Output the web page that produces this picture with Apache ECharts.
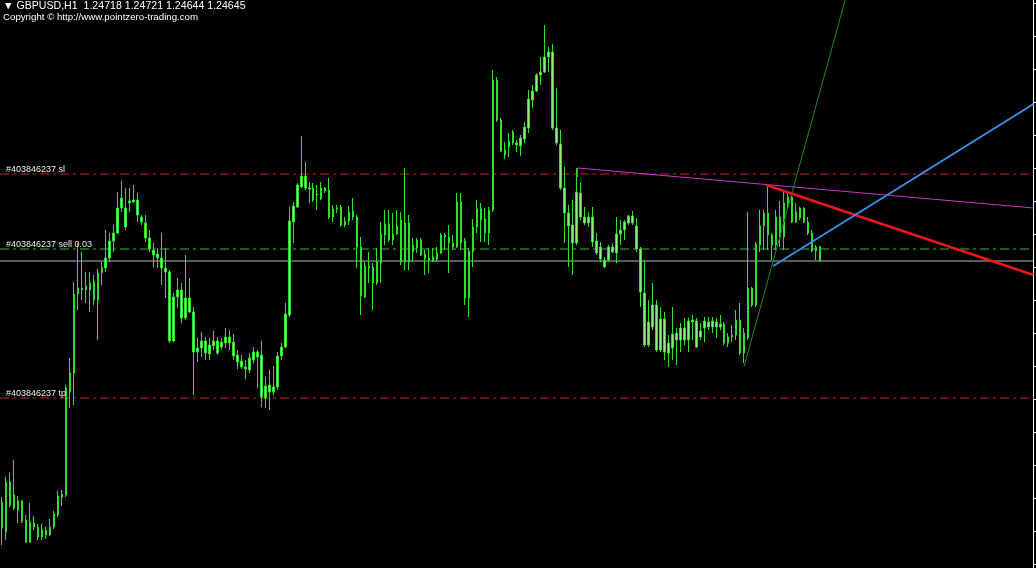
<!DOCTYPE html>
<html><head><meta charset="utf-8">
<script src="https://cdn.jsdelivr.net/npm/echarts@6/dist/echarts.min.js"></script>
<style>html,body{margin:0;padding:0;background:#000;overflow:hidden}#c{width:1036px;height:568px}</style>
</head><body><div id="c"></div>
<script>
const symbolName = 'GBPUSD';
const timeframe = 'H1';
const copyrightText = 'Copyright \u00A9 http://www.pointzero-trading.com';
const orderId = '#403846237';
const orderLots = '0.03';

const opens = [1.2344,1.2329,1.2354,1.2341,1.23445,1.23445,1.2335,1.2324,1.23335,1.23315,
1.23265,1.233,1.23275,1.23315,1.23375,1.23465,1.23475,1.2399,1.24085,1.2448,
1.2451,1.245,1.245,1.2454,1.2445,1.24585,1.2461,1.2466,1.24745,1.24785,
1.2491,1.2491,1.24935,1.2494,1.2495,1.24865,1.24835,1.2476,1.247,1.2468,
1.2466,1.2461,1.2459,1.24245,1.24465,1.245,1.2436,1.2446,1.2439,1.2419,
1.2421,1.24245,1.24225,1.2422,1.24245,1.24215,1.24235,1.24265,1.2424,1.24175,
1.24145,1.24115,1.241,1.2415,1.2419,1.24175,1.2396,1.24025,1.2399,1.24015,
1.2417,1.24215,1.24375,1.2484,1.24915,1.25015,1.2507,1.2501,1.2501,1.24975,
1.24955,1.2501,1.25,1.24865,1.2491,1.24915,1.24825,1.24845,1.24895,1.24865,
1.24715,1.24465,1.2462,1.24615,1.24535,1.24635,1.24775,1.2483,1.2475,1.2478,
1.2485,1.2464,1.24835,1.2469,1.2471,1.2475,1.2468,1.2466,1.24645,1.24655,
1.24685,1.24775,1.24765,1.24735,1.24715,1.2494,1.24745,1.2446,1.2469,1.24815,
1.24905,1.24855,1.24785,1.249,1.2555,1.2535,1.252,1.25215,1.25235,1.25235,
1.2522,1.25255,1.2531,1.2545,1.25495,1.25575,1.2559,1.25665,1.2569,1.2531,
1.2523,1.2501,1.24885,1.24825,1.24735,1.24985,1.24865,1.24835,1.24865,1.24745,
1.24715,1.2465,1.2465,1.24715,1.24685,1.2478,1.248,1.24835,1.2487,1.2482,
1.24705,1.24485,1.24225,1.24315,1.24425,1.242,1.24355,1.24235,1.2421,1.2425,
1.2425,1.2431,1.2425,1.2434,1.24345,1.24265,1.2431,1.2434,1.24315,1.2434,
1.24315,1.2433,1.24235,1.24265,1.24275,1.2435,1.24185,1.2426,1.2451,1.24425,
1.24725,1.2482,1.24885,1.24775,1.24725,1.24865,1.24765,1.24935,1.24965,1.2484,
1.2486,1.2491,1.2484,1.24785,1.24695,1.24718];

const closes = [1.2331,1.2354,1.23425,1.23475,1.234,1.23345,1.2324,1.2334,1.23315,1.23265,
1.233,1.23275,1.23315,1.2338,1.2347,1.2348,1.2401,1.24085,1.2448,1.2451,
1.245,1.2452,1.24535,1.2445,1.24585,1.2461,1.2466,1.24745,1.24785,1.2491,
1.2496,1.24815,1.24945,1.2495,1.24875,1.2484,1.2476,1.24705,1.24675,1.2466,
1.2461,1.2459,1.24245,1.24465,1.245,1.2436,1.2446,1.2439,1.2419,1.2421,
1.24245,1.24185,1.2418,1.24245,1.24185,1.2424,1.24265,1.24235,1.2417,1.2414,
1.24115,1.24105,1.2416,1.2419,1.24165,1.23965,1.2402,1.2399,1.24015,1.2417,
1.24215,1.2438,1.24845,1.2492,1.25025,1.2507,1.2501,1.25005,1.2495,1.2498,
1.2501,1.24995,1.24865,1.24905,1.24905,1.24825,1.24845,1.2489,1.24865,1.24715,
1.2447,1.2462,1.2461,1.24535,1.2464,1.2478,1.2483,1.2475,1.2478,1.2482,
1.2464,1.24835,1.2464,1.24725,1.2475,1.24675,1.24655,1.2465,1.24665,1.24685,
1.24775,1.24765,1.24735,1.24715,1.2494,1.24735,1.2446,1.24695,1.24815,1.24905,
1.2485,1.24785,1.249,1.2555,1.2535,1.25195,1.25175,1.25245,1.2529,1.25225,
1.2526,1.25315,1.25455,1.25495,1.25575,1.2559,1.25665,1.2569,1.2531,1.25235,
1.2501,1.24885,1.2482,1.24735,1.2499,1.24865,1.24835,1.24865,1.2474,1.24685,
1.24655,1.24615,1.24715,1.2469,1.2478,1.248,1.2484,1.2487,1.24835,1.24705,
1.2449,1.24225,1.2434,1.24425,1.242,1.24355,1.2419,1.24185,1.2428,1.24285,
1.2431,1.2425,1.24345,1.2435,1.24215,1.24295,1.24345,1.24315,1.24345,1.24315,
1.2433,1.24235,1.24265,1.24275,1.2435,1.24185,1.24285,1.2451,1.24425,1.2473,
1.2482,1.24885,1.24775,1.24725,1.24865,1.24765,1.24935,1.24965,1.2484,1.2489,
1.2491,1.2484,1.24785,1.24695,1.24715,1.24645];

const lows = [1.23225,1.2325,1.23415,1.234,1.23335,1.23335,1.23235,1.23235,1.233,1.2325,
1.2325,1.23255,1.2327,1.23305,1.23365,1.2342,1.23465,1.2391,1.23925,1.244,
1.2445,1.24435,1.2439,1.24425,1.2425,1.24525,1.2459,1.2464,1.2469,1.2478,
1.2489,1.248,1.2489,1.24935,1.2484,1.24825,1.2474,1.2469,1.24615,1.2461,
1.24525,1.2446,1.24235,1.2424,1.2441,1.24335,1.2435,1.24385,1.23975,1.2414,
1.24165,1.2415,1.2415,1.242,1.24175,1.242,1.2421,1.242,1.2415,1.24105,
1.24105,1.24055,1.24085,1.24135,1.2401,1.23915,1.2391,1.239,1.23975,1.24,
1.2415,1.2421,1.24365,1.24735,1.2491,1.2501,1.25,1.24935,1.2494,1.249,
1.2495,1.24985,1.24855,1.2484,1.24885,1.24815,1.24815,1.24825,1.2485,1.2461,
1.24375,1.2446,1.24535,1.244,1.24525,1.24535,1.24725,1.2474,1.24725,1.24775,
1.24625,1.246,1.246,1.2464,1.24685,1.2467,1.24575,1.24585,1.2464,1.2464,
1.2468,1.247,1.24585,1.247,1.2471,1.247,1.24425,1.24365,1.24615,1.24785,
1.2474,1.2474,1.24725,1.2489,1.2534,1.2519,1.25155,1.25165,1.25225,1.2519,
1.2517,1.25235,1.25285,1.2541,1.2549,1.25525,1.25585,1.2559,1.253,1.25225,
1.25,1.24735,1.24615,1.24575,1.24725,1.2485,1.24825,1.24815,1.24715,1.24675,
1.2464,1.2461,1.2464,1.24685,1.24635,1.24725,1.2475,1.24825,1.24825,1.2469,
1.24415,1.24215,1.24215,1.243,1.2419,1.2419,1.2415,1.24115,1.2415,1.24125,
1.2419,1.24225,1.2419,1.2425,1.2421,1.2425,1.2424,1.243,1.24285,1.2426,
1.243,1.24225,1.24215,1.2424,1.2425,1.24175,1.24135,1.2425,1.24415,1.24415,
1.2469,1.247,1.247,1.2465,1.247,1.24715,1.247,1.2491,1.24835,1.24835,
1.2485,1.24835,1.24775,1.2469,1.2465,1.24644];

const highs = [1.23465,1.23565,1.23585,1.2365,1.2347,1.2345,1.23375,1.23435,1.2337,1.2333,
1.2333,1.23315,1.23355,1.23395,1.23495,1.235,1.24025,1.2416,1.2454,1.24735,
1.2469,1.2459,1.2459,1.24575,1.24605,1.2464,1.248,1.24785,1.24825,1.2499,
1.25045,1.2501,1.2501,1.25025,1.24985,1.24875,1.24875,1.248,1.24735,1.2471,
1.24785,1.2471,1.246,1.24485,1.2456,1.24535,1.24675,1.2456,1.24415,1.2426,
1.2429,1.24265,1.2426,1.24295,1.24265,1.2426,1.2431,1.243,1.2428,1.242,
1.24175,1.2415,1.24185,1.24215,1.242,1.24245,1.24065,1.241,1.2412,1.2419,
1.24235,1.24435,1.24915,1.2494,1.25035,1.2527,1.2514,1.2504,1.25035,1.25025,
1.2504,1.25015,1.2506,1.24925,1.24925,1.24925,1.24865,1.2492,1.2496,1.24875,
1.24765,1.2464,1.2469,1.24635,1.2471,1.2484,1.249,1.249,1.24885,1.249,
1.2489,1.2511,1.24875,1.2476,1.2476,1.2476,1.247,1.2471,1.2471,1.24715,
1.24785,1.24785,1.24825,1.24775,1.24985,1.24985,1.2476,1.2471,1.24855,1.2495,
1.24935,1.2491,1.24915,1.256,1.25565,1.2536,1.2524,1.25285,1.253,1.2525,
1.25275,1.2534,1.255,1.25525,1.25585,1.25665,1.25825,1.25715,1.2573,1.2551,
1.253,1.25115,1.24925,1.2495,1.2511,1.2504,1.24915,1.2489,1.24915,1.24785,
1.2474,1.24665,1.24725,1.24735,1.24865,1.2485,1.2485,1.24875,1.24895,1.2486,
1.24715,1.2465,1.2445,1.24535,1.2445,1.24415,1.2439,1.24275,1.24415,1.2431,
1.24335,1.2436,1.2436,1.24375,1.2436,1.24335,1.24365,1.24365,1.24365,1.2436,
1.24375,1.2434,1.24285,1.24325,1.244,1.24435,1.2431,1.2489,1.24515,1.2474,
1.249,1.249,1.25015,1.24785,1.249,1.24945,1.2499,1.2499,1.2497,1.24935,
1.24915,1.24915,1.24865,1.248,1.24725,1.24721];

const emptyBarsRight = 53;

const levelSL = 1.2508;
const levelEntry = 1.24705;
const levelTP = 1.2396;

const priceTicks = [1.25935,1.2577,1.25605,1.2544,1.25275,1.2511,1.24945,1.2478,1.24615,1.2445,
1.24285,1.2412,1.23955,1.2379,1.23625,1.2346,1.23295,1.2313];

// trendline anchors: [bar index, price]
const trendMagenta = [[144.25,1.25065],[144.25,1.2511],[258.5,1.2491]];
const trendRed = [[191.5,1.25025],[258.5,1.24575]];
const trendBlue = [[193.25,1.2462],[258.5,1.2543]];
const trendGreen = [[186,1.2412],[212,1.26]];

const labelBar = 1.0;

const n = opens.length;
const totalBars = n + emptyBarsRight;
const categories = [];
for (let i = 0; i < totalBars; i++) categories.push(String(i));
const candles = opens.map((o, i) => [o, closes[i], lows[i], highs[i]]);
const last = n - 1;
const fmt = v => v.toFixed(5);
const headerText = '\u25BC ' + symbolName + ',' + timeframe + '  ' + fmt(opens[last]) + ' ' + fmt(highs[last]) + ' ' + fmt(lows[last]) + ' ' + fmt(closes[last]);

const FONT = '"Liberation Sans", Arial, sans-serif';

function levelSeries(level, color, dash, text) {
  const s = {
    type: 'line', xAxisIndex: 1, symbol: 'none', silent: true, z: 2,
    data: [[-0.5, level], [totalBars - 0.5, level]],
    lineStyle: {color: color, width: 1, type: dash}
  };
  if (text) {
    s.markPoint = {
      silent: true, symbol: 'rect', symbolSize: 0, animation: false,
      data: [{coord: [labelBar, level], value: text}],
      label: {show: true, position: 'top', distance: -0.5, align: 'left', formatter: text,
        color: '#ececec', fontSize: 9, fontFamily: FONT}
    };
  }
  return s;
}

const chart = echarts.init(document.getElementById('c'));
chart.setOption({
  animation: false,
  backgroundColor: '#000',
  title: {
    text: headerText, subtext: copyrightText, left: 3, top: 0.5, itemGap: 1, padding: 0,
    textStyle: {color: '#fff', fontSize: 10.6, fontWeight: 'normal', fontFamily: FONT},
    subtextStyle: {color: '#fff', fontSize: 9.7, fontFamily: FONT}
  },
  grid: {left: -2.5, right: 2.5, top: 0, bottom: 0},
  xAxis: [
    {type: 'category', data: categories, show: false, boundaryGap: true},
    {type: 'value', min: -0.5, max: totalBars - 0.5, show: false}
  ],
  yAxis: {
    type: 'value', position: 'right', min: 1.2311, max: 1.2595, scale: true,
    splitLine: {show: false},
    axisLine: {show: true, onZero: false, lineStyle: {color: '#fff', width: 1}},
    axisTick: {show: true, inside: false, length: 3, customValues: priceTicks, lineStyle: {color: '#fff'}},
    axisLabel: {show: false}
  },
  series: [
    levelSeries(levelSL, '#cc2020', [9, 4, 3, 4], orderId + ' sl'),
    levelSeries(levelEntry, '#3cb43c', [9, 4, 3, 4], orderId + ' sell ' + orderLots),
    levelSeries(levelTP, '#cc2020', [9, 4, 3, 4], orderId + ' tp'),
    levelSeries(closes[last], '#b4b4b4', 'solid', null),
    {
      type: 'candlestick', data: candles, barWidth: 2, z: 3,
      itemStyle: {color: '#8cee7e', color0: '#8cee7e', borderColor: '#2ee02e', borderColor0: '#2ee02e', borderWidth: 1}
    },
    {type: 'line', xAxisIndex: 1, data: trendGreen, symbol: 'none', silent: true, z: 4, lineStyle: {color: '#1f8a1f', width: 1}},
    {type: 'line', xAxisIndex: 1, data: trendMagenta, symbol: 'none', silent: true, z: 4, lineStyle: {color: '#c838c8', width: 1}},
    {type: 'line', xAxisIndex: 1, data: trendRed, symbol: 'none', silent: true, z: 5, lineStyle: {color: '#e81818', width: 2.5}},
    {type: 'line', xAxisIndex: 1, data: trendBlue, symbol: 'none', silent: true, z: 5, lineStyle: {color: '#3a8ee8', width: 2}}
  ]
});
</script></body></html>
